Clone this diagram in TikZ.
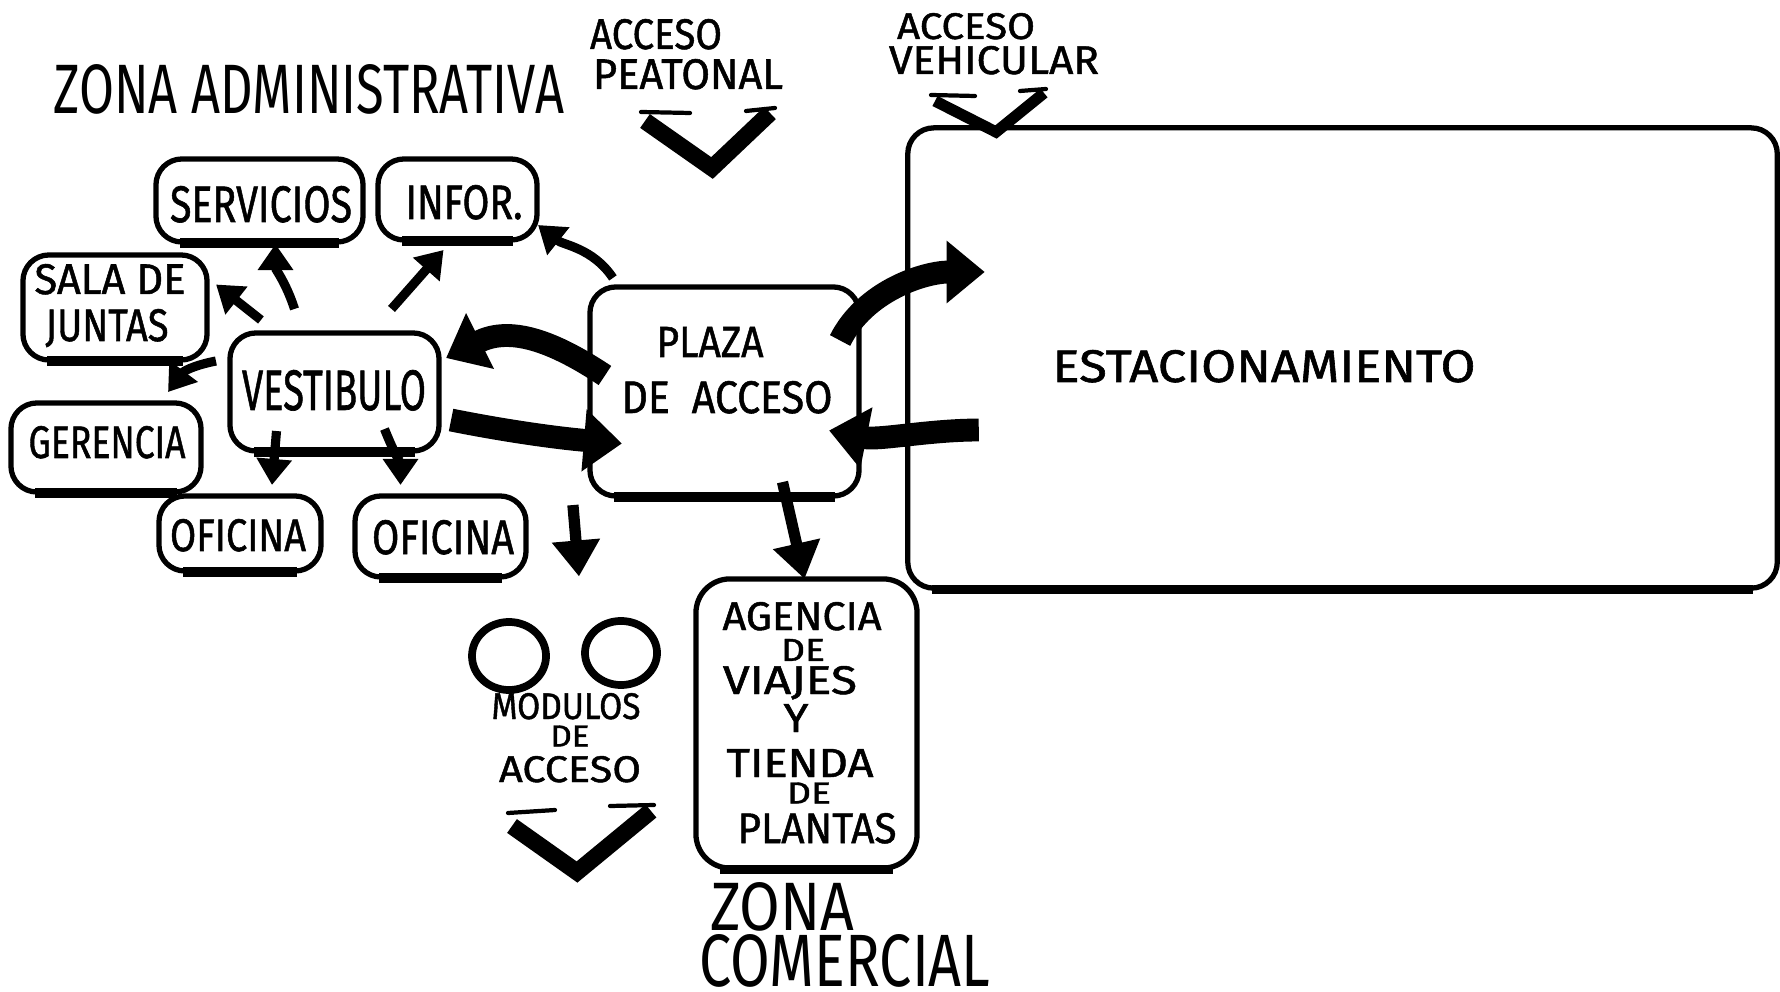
\documentclass[tikz,border=0pt]{standalone}
\usepackage{fontspec}
\setmainfont{Fira Sans}
\newfontfamily\labfont{Fira Sans}[FakeBold=1.2]
\usepackage{graphicx}
\usetikzlibrary{arrows.meta,calc,shapes.geometric}
\newlength\pxu \setlength\pxu{0.01cm}
\newcommand\lbl[3]{\resizebox{#1\pxu}{#2\pxu}{\raisebox{0pt}[\height][0pt]{#3}}}
\begin{document}
\begin{tikzpicture}[x=0.01cm,y=-0.01cm,
  box/.style={draw, line width=1.5pt, rounded corners=0.26cm, inner sep=0pt, outer sep=0pt},
  heavy/.style={line width=2.6pt},
  oval/.style={draw, ellipse, line width=2.2pt, inner sep=0pt, outer sep=0pt},
  txt/.style={inner sep=0pt, font=\labfont},
  thintxt/.style={inner sep=0pt},
  arr/.style={line width=2.6pt, -{Triangle[length=0.26cm,width=0.34cm]}},
  marr/.style={line width=3.2pt, -{Triangle[length=0.36cm,width=0.46cm]}},
  bigarr/.style={line width=6.5pt, -{Triangle[length=0.38cm,width=0.60cm]}},
  chev/.style={line width=4.8pt, line join=miter},
  flick/.style={line width=1.2pt, line cap=round}
]
\fill[white] (0,0) rectangle (1780,992);
\useasboundingbox (0,0) rectangle (1780,992);

% boxes
\node[box, minimum width=8.69cm, minimum height=4.60cm] (estac) at (1342.5,358) {};
\node[box, minimum width=2.69cm, minimum height=2.09cm] (plaza) at (724.5,391.5) {};
\node[box, minimum width=2.09cm, minimum height=1.18cm] (vest) at (334.5,392) {};
\node[box, minimum width=2.07cm, minimum height=0.83cm] (serv) at (259.5,200.5) {};
\node[box, minimum width=1.59cm, minimum height=0.81cm] (infor) at (457.5,199.5) {};
\node[box, minimum width=1.84cm, minimum height=1.05cm] (sala) at (115,307.5) {};
\node[box, minimum width=1.90cm, minimum height=0.89cm] (ger) at (106,447.5) {};
\node[box, minimum width=1.62cm, minimum height=0.75cm] (of1) at (240,533.5) {};
\node[box, minimum width=1.71cm, minimum height=0.81cm] (of2) at (440.5,536.5) {};
\node[box, minimum width=2.21cm, minimum height=2.89cm, rounded corners=0.34cm] (agen) at (806.5,723.5) {};
\node[oval, minimum width=0.74cm, minimum height=0.68cm] (c1) at (509,656) {};
\node[oval, minimum width=0.72cm, minimum height=0.64cm] (c2) at (621,653) {};

\foreach \n in {estac,plaza,vest,serv,infor,sala,ger,of1,of2,agen}
  \draw[heavy] ([xshift=0.24cm,yshift=-0.01cm]\n.south west) -- ([xshift=-0.24cm,yshift=-0.01cm]\n.south east);

% texts
\node[thintxt] (tza) at (309,89) {\lbl{510}{49}{ZONA ADMINISTRATIVA}};
\node[txt] (tap1) at (656,34) {\lbl{132}{30}{ACCESO}};
\node[txt] (tap2) at (688,74) {\lbl{190}{30}{PEATONAL}};
\node[txt] (tav1) at (966,26) {\lbl{138}{26}{ACCESO}};
\node[txt] (tav2) at (994,60) {\lbl{210}{28}{VEHICULAR}};
\node[txt] (test) at (1264,366) {\lbl{423}{32}{ESTACIONAMIENTO}};
\node[txt] (tpl1) at (710,342) {\lbl{107}{30}{PLAZA}};
\node[txt] (tpl2) at (727,397) {\lbl{211}{32}{DE\ \ ACCESO}};
\node[txt] (tvest) at (334,390) {\lbl{184}{40}{VESTIBULO}};
\node[txt] (tserv) at (261,204) {\lbl{182}{36}{SERVICIOS}};
\node[txt] (tinf) at (464,202) {\lbl{117}{34}{INFOR.}};
\node[txt] (tsal1) at (110,279) {\lbl{151}{30}{SALA DE}};
\node[txt] (tsal2) at (107,325) {\lbl{123}{32}{JUNTAS}};
\node[txt] (tger) at (107,442) {\lbl{157}{32}{GERENCIA}};
\node[txt] (tof1) at (238,535) {\lbl{136}{32}{OFICINA}};
\node[txt] (tof2) at (443,537) {\lbl{142}{34}{OFICINA}};
\node[txt] (tmo1) at (566,706) {\lbl{149}{26}{MODULOS}};
\node[txt] (tmo2) at (570,736) {\lbl{39}{21}{DE}};
\node[txt] (tmo3) at (570,769) {\lbl{142}{26}{ACCESO}};
\node[txt] (tag1) at (802,616) {\lbl{159}{28}{AGENCIA}};
\node[txt] (tag2) at (803,650) {\lbl{44}{22}{DE}};
\node[txt] (tag3) at (790,680) {\lbl{134}{28}{VIAJES}};
\node[txt] (tag4) at (796,718) {\lbl{25}{28}{Y}};
\node[txt] (tag5) at (800,763) {\lbl{147}{28}{TIENDA}};
\node[txt] (tag6) at (809,793) {\lbl{44}{21}{DE}};
\node[txt] (tag7) at (817,828) {\lbl{159}{30}{PLANTAS}};
\node[thintxt] (tzc1) at (782,906) {\lbl{144}{48}{ZONA}};
\node[thintxt] (tzc2) at (845,960) {\lbl{291}{52}{COMERCIAL}};

% chevrons
\draw[chev] (645,121) -- (712,168) -- (770,113);
\draw[flick] (641,112) -- (690,113);
\draw[flick] (746,111) -- (775,108);
\draw[chev, line width=3.2pt] (935,101) -- (996,132) -- (1044,93);
\draw[flick] (931,95) -- (975,96);
\draw[flick] (1020,91) -- (1046,89);
\draw[chev] (512,826) -- (577,872) -- (651,811);
\draw[flick] (508,813) -- (555,810);
\draw[flick] (610,806) -- (654,805);

% connectors
\draw[arr] ([shift={(23,-9)}]plaza.north west) .. controls +(-20,-30) and +(25,20) .. ([shift={(1,-15)}]infor.south east);
\draw[arr] ([shift={(-40,-24)}]vest.north) .. controls +(-8,-25) and +(0,25) .. ([shift={(16,2)}]serv.south);
\draw[arr] ([shift={(57,-24)}]vest.north) -- ([shift={(-14,10)}]infor.south);
\draw[arr] ([shift={(31,-13)}]vest.north west) -- ([shift={(9,-23)}]sala.east);
\draw[arr] ([shift={(-14,-31)}]vest.west) .. controls +(-25,5) and +(15,-20) .. ([shift={(-33,-11)}]ger.north east);
\draw[arr] ([shift={(-58,-20)}]vest.south) -- ([shift={(32,-11)}]of1.north);
\draw[arr] ([shift={(50,-22)}]vest.south) .. controls +(8,20) and +(0,-20) .. ([shift={(-40,-11)}]of2.north);
\draw[bigarr] ([shift={(15,-16)}]plaza.west) .. controls +(-60,-40) and +(60,-30) .. ([shift={(7,-34)}]vest.east);
\draw[bigarr] ([shift={(12,28)}]vest.east) .. controls +(60,12) and +(-60,-5) .. ([shift={(32,52)}]plaza.west);
\draw[bigarr] ([shift={(-19,-51)}]plaza.east) .. controls +(25,-50) and +(-60,0) .. ([shift={(77,-86)}]estac.west);
\draw[bigarr] ([shift={(71,72)}]estac.west) .. controls +(-50,0) and +(50,10) .. ([shift={(-30,39)}]plaza.east);
\draw[marr] ([shift={(-17,9)}]plaza.south west) -- ($(c1.north)!0.5!(c2.north)+(14,-45)$);
\draw[marr] ([shift={(58,-14)}]plaza.south) -- ([shift={(-2,0)}]agen.north);
\end{tikzpicture}
\end{document}
